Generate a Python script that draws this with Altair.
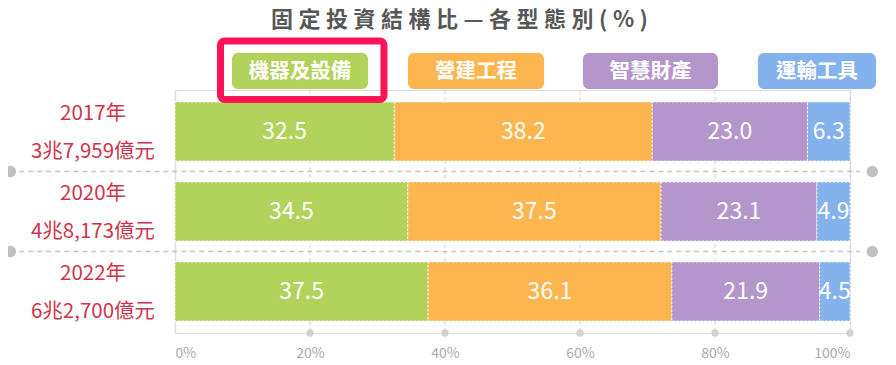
import altair as alt
import pandas as pd

# ---------------- data ----------------
years = ["2017年|3兆7,959億元", "2020年|4兆8,173億元", "2022年|6兆2,700億元"]
categories = ["機器及設備", "營建工程", "智慧財產", "運輸工具"]
colors = ["#b1d35b", "#fdb54f", "#b596cc", "#84b2ec"]
machinery = [32.5, 34.5, 37.5]
construction = [38.2, 37.5, 36.1]
ip = [23.0, 23.1, 21.9]
transport = [6.3, 4.9, 4.5]
tick_values = [0, 20, 40, 60, 80, 100]
title_text = "固定投資結構比—各型態別(%)"

series = [machinery, construction, ip, transport]

# ---------------- layout ----------------
W, H = 675, 243
x_scale = alt.Scale(domain=[0, 100], nice=False, zero=False)
y_scale = alt.Scale(domain=years, paddingInner=0.2625, paddingOuter=0.15)
color_scale = alt.Scale(domain=categories, range=colors)
FONT = "Noto Sans CJK TC"

rows = []
for yi, y in enumerate(years):
    acc = 0.0
    for ci, c in enumerate(categories):
        v = series[ci][yi]
        rows.append({"year": y, "cat": c, "value": v, "start": acc,
                     "end": acc + v, "mid": acc + v / 2})
        acc += v
bars_df = pd.DataFrame(rows)

legend_x0 = [8.44, 34.52, 60.44, 86.37]
legend_x1 = [28.59, 54.67, 80.44, 103.85]
legend_df = pd.DataFrame({"cat": categories, "x0": legend_x0, "x1": legend_x1,
                          "xc": [(a + b) / 2 for a, b in zip(legend_x0, legend_x1)]})

sep_df = pd.DataFrame({"year": years[:2], "xa": [-24.4] * 2, "xb": [101.5] * 2})
sep_dots_df = pd.DataFrame({"year": years[:2] * 2, "x": [-24.4] * 2 + [103.3] * 2})
grid_df = pd.DataFrame({"v": tick_values[1:]})
hl_df = pd.DataFrame({"x0": [6.74], "x1": [30.96]})

Y = alt.Y("year:N", scale=y_scale, sort=years,
          axis=alt.Axis(title=None, labelExpr="split(datum.label, '|')",
                        labelAlign="center", labelPadding=82.5, ticks=False,
                        tickSize=0, domainColor="#dddddd", domainWidth=1.5,
                        labelFontSize=20.5, labelColor="#cf344b", labelFont=FONT,
                        labelLineHeight=38, labelOffset=-17.5, labelLimit=300, grid=False))

grid = alt.Chart(grid_df).mark_rule(color="#d2d2d2", strokeDash=[4, 3], strokeWidth=1).encode(
    x=alt.X("v:Q", scale=x_scale,
            axis=alt.Axis(values=tick_values, labelExpr="datum.value + '%'", title=None,
                          grid=False, domain=False, ticks=False, labelFontSize=14,
                          labelColor="#aaaaaa", labelPadding=13, labelFont=FONT))
)
grid_dots = alt.Chart(grid_df).mark_circle(color="#d2d2d2", opacity=1, size=55).encode(
    x=alt.X("v:Q", scale=x_scale), y=alt.value(H)
)
seps = alt.Chart(sep_df).mark_rule(color="#c4c4c4", strokeDash=[5, 4], strokeWidth=1.5,
                                   yOffset=10.5).encode(
    x=alt.X("xa:Q", scale=x_scale), x2="xb:Q",
    y=alt.Y("year:N", scale=y_scale, sort=years, bandPosition=1)
)
sep_dots = alt.Chart(sep_dots_df).mark_circle(color="#c0c0c0", opacity=1, size=130,
                                              yOffset=10.5).encode(
    x=alt.X("x:Q", scale=x_scale),
    y=alt.Y("year:N", scale=y_scale, sort=years, bandPosition=1)
)
bars = alt.Chart(bars_df).mark_bar(stroke="white", strokeWidth=1, strokeDash=[2, 2]).encode(
    x=alt.X("start:Q", scale=x_scale), x2="end:Q",
    y=Y,
    color=alt.Color("cat:N", scale=color_scale, legend=None)
)
bar_text = alt.Chart(bars_df).mark_text(color="white", fontSize=23, font=FONT,
                                        fontWeight="normal").encode(
    x=alt.X("mid:Q", scale=x_scale),
    y=alt.Y("year:N", scale=y_scale, sort=years),
    text=alt.Text("value:Q", format=".1f")
)
legend_boxes = alt.Chart(legend_df).mark_rect(cornerRadius=6).encode(
    x=alt.X("x0:Q", scale=x_scale), x2="x1:Q",
    y=alt.value(-37), y2=alt.value(-1),
    color=alt.Color("cat:N", scale=color_scale, legend=None)
)
legend_text = alt.Chart(legend_df).mark_text(color="white", fontSize=20.5, font=FONT,
                                             fontWeight="bold").encode(
    x=alt.X("xc:Q", scale=x_scale), y=alt.value(-18.5), text="cat:N"
)
highlight = alt.Chart(hl_df).mark_rect(fill=None, fillOpacity=0, stroke="#ff1458",
                                       strokeWidth=7, cornerRadius=4).encode(
    x=alt.X("x0:Q", scale=x_scale), x2="x1:Q",
    y=alt.value(-49), y2=alt.value(9.5)
)

spaced_title = "\u2005".join(list(title_text))

chart = alt.layer(grid, grid_dots, seps, sep_dots, bars, bar_text,
                  legend_boxes, legend_text, highlight).properties(
    width=W, height=H,
    title=alt.TitleParams(spaced_title, fontSize=22, fontWeight="bold", color="#575757",
                          font=FONT, anchor="middle", frame="group", dx=-53, offset=5.5),
    autosize=alt.AutoSizeParams(type="none"),
    padding={"left": 167, "top": 82, "right": 35, "bottom": 30},
).configure_view(stroke=None).configure(font=FONT)

chart.save("out.html", embed_options={"renderer": "svg", "actions": False})
